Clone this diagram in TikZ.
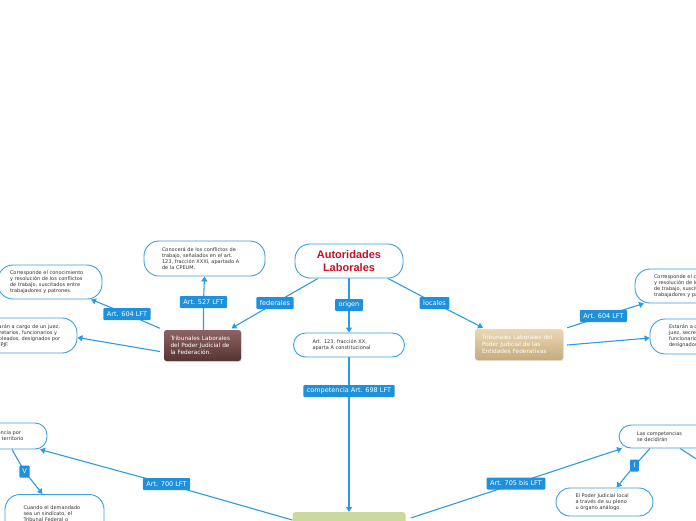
\documentclass[tikz,border=0pt]{standalone}
\usepackage{fontspec}
\setmainfont{DejaVu Sans}
\newfontfamily\titlefont{Liberation Sans}
\usetikzlibrary{arrows.meta,backgrounds,shadows}
\newcommand\mynohyph{\hyphenpenalty=10000 \exhyphenpenalty=10000 \relax}
\definecolor{edgeblue}{HTML}{2E9BE0}
\definecolor{boxblue}{HTML}{3A9EE2}
\definecolor{labblue}{HTML}{1F90DC}
\definecolor{titlered}{HTML}{C8102E}
\definecolor{txtgray}{HTML}{333333}
\definecolor{brtop}{HTML}{8E6262}
\definecolor{brbot}{HTML}{573333}
\definecolor{tntop}{HTML}{EAD8B4}
\definecolor{tnbot}{HTML}{C6AB7D}
\definecolor{grn}{HTML}{CBD89E}
\definecolor{grntxt}{HTML}{EEF3DC}
\begin{document}
\begin{tikzpicture}[x=1pt,y=-1pt,
  pill/.style={draw=boxblue, line width=0.9pt, fill=white, rounded corners=12pt,
    align=left, text=txtgray, font=\fontsize{5}{6}\selectfont\mynohyph},
  trib/.style={rounded corners=2.5pt, align=left, text=white,
    font=\fontsize{5.8}{7}\selectfont, inner ysep=0pt, minimum height=31pt,
    drop shadow={opacity=0.25, shadow xshift=0.6pt, shadow yshift=-1pt}},
  lab/.style={fill=labblue, text=white, font=\fontsize{6.5}{7.5}\selectfont,
    inner xsep=3.5pt, inner ysep=0pt, minimum height=12pt, rounded corners=1pt},
  conn/.style={draw=edgeblue, line width=1.1pt},
  arr/.style={conn, -{Triangle[length=5pt,width=6pt]}}
]
\useasboundingbox (0,0) rectangle (696,520);
\clip (0,0) rectangle (696,520);

% main nodes
\node[pill, minimum width=108pt, minimum height=34pt, rounded corners=15pt, align=center,
  font=\titlefont\bfseries\fontsize{11}{13}\selectfont, text=titlered] (auto) at (349,261) {Autoridades\\Laborales};
\node[pill, text width=73pt, inner xsep=19pt, minimum height=24pt] (a123) at (349,345) {Art. 123, fracción XX,\\aparta A constitucional};

\node[trib, top color=brtop, bottom color=brbot, text width=64pt, inner xsep=6.5pt] (tfed) at (202.5,345.5) {Tribunales Laborales\\del Poder Judicial de\\la Federación.};
\node[trib, top color=tntop, bottom color=tnbot, text width=74pt, inner xsep=7pt] (tent) at (519,344.5) {Tribunales Laborales del\\Poder Judicial de las\\Entidades Federativas};

\node[pill, text width=85pt, inner xsep=18pt, minimum height=35pt, rounded corners=15pt] (conoc) at (204.5,258.5) {Conocerá de los conflictos de\\trabajo, señalados en el art.\\123, fracción XXXI, apartado A\\de la CPEUM.};
\node[pill, text width=80pt, inner xsep=12pt, minimum height=34pt, rounded corners=15pt] (corrL) at (50,282) {Corresponde el conocimiento\\y resolución de los conflictos\\de trabajo, suscitados entre\\trabajadores y patrones.};
\node[pill, text width=76pt, inner xsep=10pt, minimum height=35pt, rounded corners=15pt] (estL) at (29,335.5) {Estarán a cargo de un juez,\\secretarios, funcionarios y\\empleados, designados por\\el CPJF.};
\node[pill, text width=80pt, inner xsep=19pt, minimum height=34pt, rounded corners=15pt] (corrR) at (694,286) {Corresponde el conocimiento\\y resolución de los conflictos\\de trabajo, suscitados entre\\trabajadores y patrones.};
\node[pill, text width=76pt, inner xsep=19pt, minimum height=35pt, rounded corners=15pt] (estR) at (707,336.5) {Estarán a cargo de un\\juez, secretarios,\\funcionarios y empleados\\designados por el CPJF.};

\node[pill, text width=56pt, inner xsep=13pt, minimum height=26pt] (compL) at (6,436) {Competencia por\\razón de territorio};
\node[pill, anchor=north, text width=62pt, inner xsep=18.5pt, inner ysep=6pt, minimum height=50pt, rounded corners=15pt] (cuando) at (54.5,494) {Cuando el demandado\\sea un sindicato, el\\Tribunal Federal o\\local del domicilio\\del mismo.};
\node[pill, text width=84pt, inner xsep=18pt, minimum height=23pt] (lasC) at (679,436.5) {Las competencias\\se decidirán};
\node[pill, text width=58pt, inner xsep=19.5pt, minimum height=28pt, rounded corners=14pt] (elP) at (604.5,502) {El Poder Judicial local\\a través de su pleno\\u órgano análogo.};

\node[anchor=north, fill=grn, rounded corners=2.5pt, text=grntxt, align=left,
  font=\fontsize{5.8}{7}\selectfont, text width=97pt, inner xsep=8pt, inner ysep=2pt,
  minimum height=40pt] (green) at (349,512) {Será competencia de los\\Tribunales Federales};

\coordinate (offR) at (712,469);

% labels
\node[lab] (lfed) at (275,303) {federales};
\node[lab] (lorig) at (349,305) {origen};
\node[lab] (lloc) at (434.5,303) {locales};
\node[lab] (l527) at (203.5,302) {Art. 527 LFT};
\node[lab] (l604a) at (127,314) {Art. 604 LFT};
\node[lab] (l604b) at (603.5,316) {Art. 604 LFT};
\node[lab] (l698) at (349,391) {competencia Art. 698 LFT};
\node[lab] (l700) at (166.5,484) {Art. 700 LFT};
\node[lab] (l705) at (516,483.5) {Art. 705 bis LFT};
\node[lab, inner xsep=3pt] (lV) at (24.5,471.5) {V};
\node[lab, inner xsep=3.5pt] (lI) at (634.5,465.5) {I};

% connectors
\begin{pgfonlayer}{background}
\draw[arr] ([xshift=-31pt]auto.south) -- (lfed.center) -- ([xshift=29pt,yshift=1.5pt]tfed.north);
\draw[arr] (auto.south) -- (lorig.center) -- (a123.north);
\draw[arr] ([xshift=39pt]auto.south) -- (lloc.center) -- ([xshift=-36pt,yshift=1pt]tent.north);
\draw[arr] ([xshift=1pt]tfed.north) -- (l527.center) -- (conoc.south);
\draw[arr] ([xshift=-4pt,yshift=1.5pt]tfed.north west) -- (l604a.center) -- ([xshift=41pt]corrL.south);
\draw[arr] ([xshift=-4pt,yshift=-6pt]tfed.west) -- ([yshift=-2pt]estL.east);
\draw[arr] ([xshift=4pt,yshift=1pt]tent.north east) -- (l604b.center) -- ([xshift=-50pt]corrR.south);
\draw[arr] ([xshift=4pt,yshift=-0.5pt]tent.east) -- ([yshift=-1.5pt]estR.west);
\draw[arr] (a123.south) -- (l698.center) -- (green.north);
\draw[arr] ([yshift=-8pt]green.north west) -- (l700.center) -- ([xshift=34pt]compL.south);
\draw[arr] ([xshift=5pt,yshift=-6pt]green.north east) -- (l705.center) -- ([xshift=-57pt]lasC.south);
\draw[arr] ([xshift=6pt]compL.south) -- (lV.center) -- ([xshift=-12pt]cuando.north);
\draw[arr] ([xshift=-29pt]lasC.south) -- (lI.center) -- ([xshift=12pt]elP.north);
\draw[arr] ([xshift=1pt]lasC.south) -- (offR);
\end{pgfonlayer}
\end{tikzpicture}
\end{document}
